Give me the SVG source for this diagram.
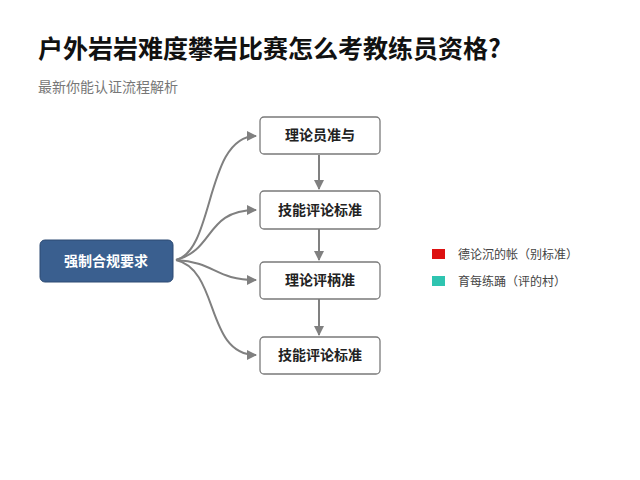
<svg xmlns="http://www.w3.org/2000/svg" width="640" height="480" viewBox="0 0 640 480">
<style>
text{font-family:"Noto Sans CJK SC","Noto Sans",sans-serif}
.box{fill:#fff;stroke:#7a7a7a;stroke-width:1.3}
.bt{font-size:14px;font-weight:bold;fill:#222;text-anchor:middle}
.c{fill:none;stroke:#808080;stroke-width:2}
.lg{font-size:12px;fill:#444}
</style>
<defs><marker id="a" viewBox="0 0 10 10" refX="9" refY="5" markerWidth="5" markerHeight="5" orient="auto"><path d="M0,0L10,5L0,10z" fill="#808080"/></marker></defs>
<rect width="640" height="480" fill="#fff"/>
<text x="38" y="58" font-size="25" font-weight="bold" fill="#111">户外岩岩难度攀岩比赛怎么考教练员资格?</text>
<text x="38" y="92" font-size="14" fill="#777">最新你能认证流程解析</text>
<g id="connectors">
<path class="c" marker-end="url(#a)" d="M176,260 C215,250 205,136 256,136"/>
<path class="c" marker-end="url(#a)" d="M176,260 C215,250 205,210 256,210"/>
<path class="c" marker-end="url(#a)" d="M176,260 C215,262 215,280 256,280"/>
<path class="c" marker-end="url(#a)" d="M176,260 C220,270 205,355 256,355"/>
<path class="c" marker-end="url(#a)" d="M319,155 V189"/>
<path class="c" marker-end="url(#a)" d="M319,229 V260"/>
<path class="c" marker-end="url(#a)" d="M319,299 V335"/>
</g>
<g id="n0"><rect x="40" y="240" width="133" height="42" rx="5" fill="#3a5f8f" stroke="#2c4a73"/><text x="106" y="266" font-size="14" font-weight="bold" fill="#fff" text-anchor="middle">强制合规要求</text></g>
<g id="n1"><rect class="box" x="260" y="117" width="120" height="37" rx="4"/><text class="bt" x="320" y="140">理论员准与</text></g>
<g id="n2"><rect class="box" x="260" y="191" width="120" height="38" rx="4"/><text class="bt" x="320" y="215">技能评论标准</text></g>
<g id="n3"><rect class="box" x="260" y="262" width="120" height="37" rx="4"/><text class="bt" x="320" y="285">理论评柄准</text></g>
<g id="n4"><rect class="box" x="260" y="337" width="120" height="37" rx="4"/><text class="bt" x="320" y="360">技能评论标准</text></g>
<g id="legend">
<rect x="432" y="249" width="13" height="10" fill="#dd1111"/><text class="lg" x="458" y="259">德论沉的帐（别标准）</text>
<rect x="432" y="276" width="13" height="10" fill="#2ec4b0"/><text class="lg" x="458" y="286">育每练踊（评的村）</text>
</g>
</svg>
